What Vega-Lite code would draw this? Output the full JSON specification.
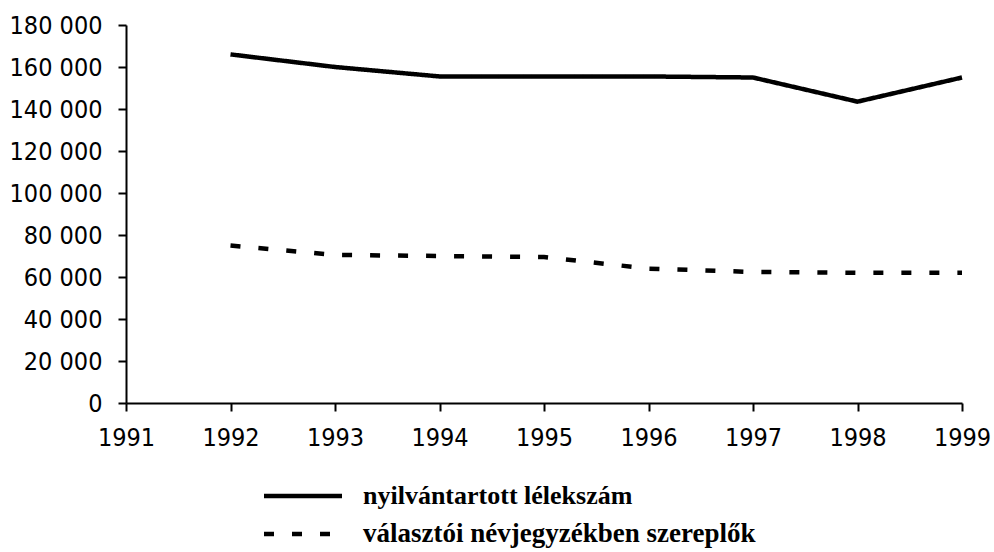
{
  "$schema": "https://vega.github.io/schema/vega-lite/v6.json",
  "autosize": "none",
  "width": 836,
  "height": 378,
  "padding": {"left": 126, "top": 25, "right": 32, "bottom": 149},
  "background": "white",
  "config": {"view": {"stroke": null}},
  "data": {
    "values": [
      {"year": 1992, "value": 166000, "series": "nyilvántartott lélekszám"},
      {"year": 1993, "value": 160000, "series": "nyilvántartott lélekszám"},
      {"year": 1994, "value": 155500, "series": "nyilvántartott lélekszám"},
      {"year": 1995, "value": 155500, "series": "nyilvántartott lélekszám"},
      {"year": 1996, "value": 155500, "series": "nyilvántartott lélekszám"},
      {"year": 1997, "value": 155000, "series": "nyilvántartott lélekszám"},
      {"year": 1998, "value": 143500, "series": "nyilvántartott lélekszám"},
      {"year": 1999, "value": 155000, "series": "nyilvántartott lélekszám"},
      {"year": 1992, "value": 75000, "series": "választói névjegyzékben szereplők"},
      {"year": 1993, "value": 70500, "series": "választói névjegyzékben szereplők"},
      {"year": 1994, "value": 70000, "series": "választói névjegyzékben szereplők"},
      {"year": 1995, "value": 69500, "series": "választói névjegyzékben szereplők"},
      {"year": 1996, "value": 64000, "series": "választói névjegyzékben szereplők"},
      {"year": 1997, "value": 62400, "series": "választói névjegyzékben szereplők"},
      {"year": 1998, "value": 62000, "series": "választói névjegyzékben szereplők"},
      {"year": 1999, "value": 62000, "series": "választói névjegyzékben szereplők"}
    ]
  },
  "mark": {"type": "line", "color": "black", "strokeWidth": 4.5, "strokeCap": "butt"},
  "encoding": {
    "x": {
      "field": "year", "type": "quantitative",
      "scale": {"domain": [1991, 1999], "nice": false, "zero": false},
      "axis": {
        "title": null, "grid": false, "values": [1991,1992,1993,1994,1995,1996,1997,1998,1999],
        "format": "d", "domainColor": "black", "domainWidth": 2, "tickColor": "black", "tickWidth": 2,
        "tickSize": 8, "labelPadding": 14, "labelFont": "DejaVu Sans Condensed", "labelFontSize": 25,
        "labelColor": "black", "labelFlush": false
      }
    },
    "y": {
      "field": "value", "type": "quantitative",
      "scale": {"domain": [0, 180000], "nice": false},
      "axis": {
        "title": null, "grid": false, "values": [0,20000,40000,60000,80000,100000,120000,140000,160000,180000],
        "labelExpr": "replace(format(datum.value, ',d'), ',', ' ')",
        "domainColor": "black", "domainWidth": 2, "tickColor": "black", "tickWidth": 2,
        "tickSize": 8, "labelPadding": 16, "labelFont": "DejaVu Sans Condensed", "labelFontSize": 25,
        "labelColor": "black", "labelFlush": false, "labelBaseline": "middle"
      }
    },
    "strokeDash": {
      "field": "series", "type": "nominal",
      "scale": {"domain": ["nyilvántartott lélekszám", "választói névjegyzékben szereplők"], "range": [[1, 0], [10, 18]]},
      "legend": {
        "title": null, "orient": "none", "legendX": 155, "legendY": 449,
        "direction": "vertical", "symbolType": "M-2,0H2", "symbolSize": 1521,
        "symbolStrokeWidth": 4.5, "symbolStrokeColor": "black", "symbolFillColor": "transparent",
        "labelFont": "Liberation Serif", "labelFontWeight": "bold",
        "labelFontSize": {"expr": "datum.index == 0 ? 26 : 27"},
        "labelColor": "black", "labelOffset": 38, "rowPadding": 3, "labelLimit": 600
      }
    }
  }
}
